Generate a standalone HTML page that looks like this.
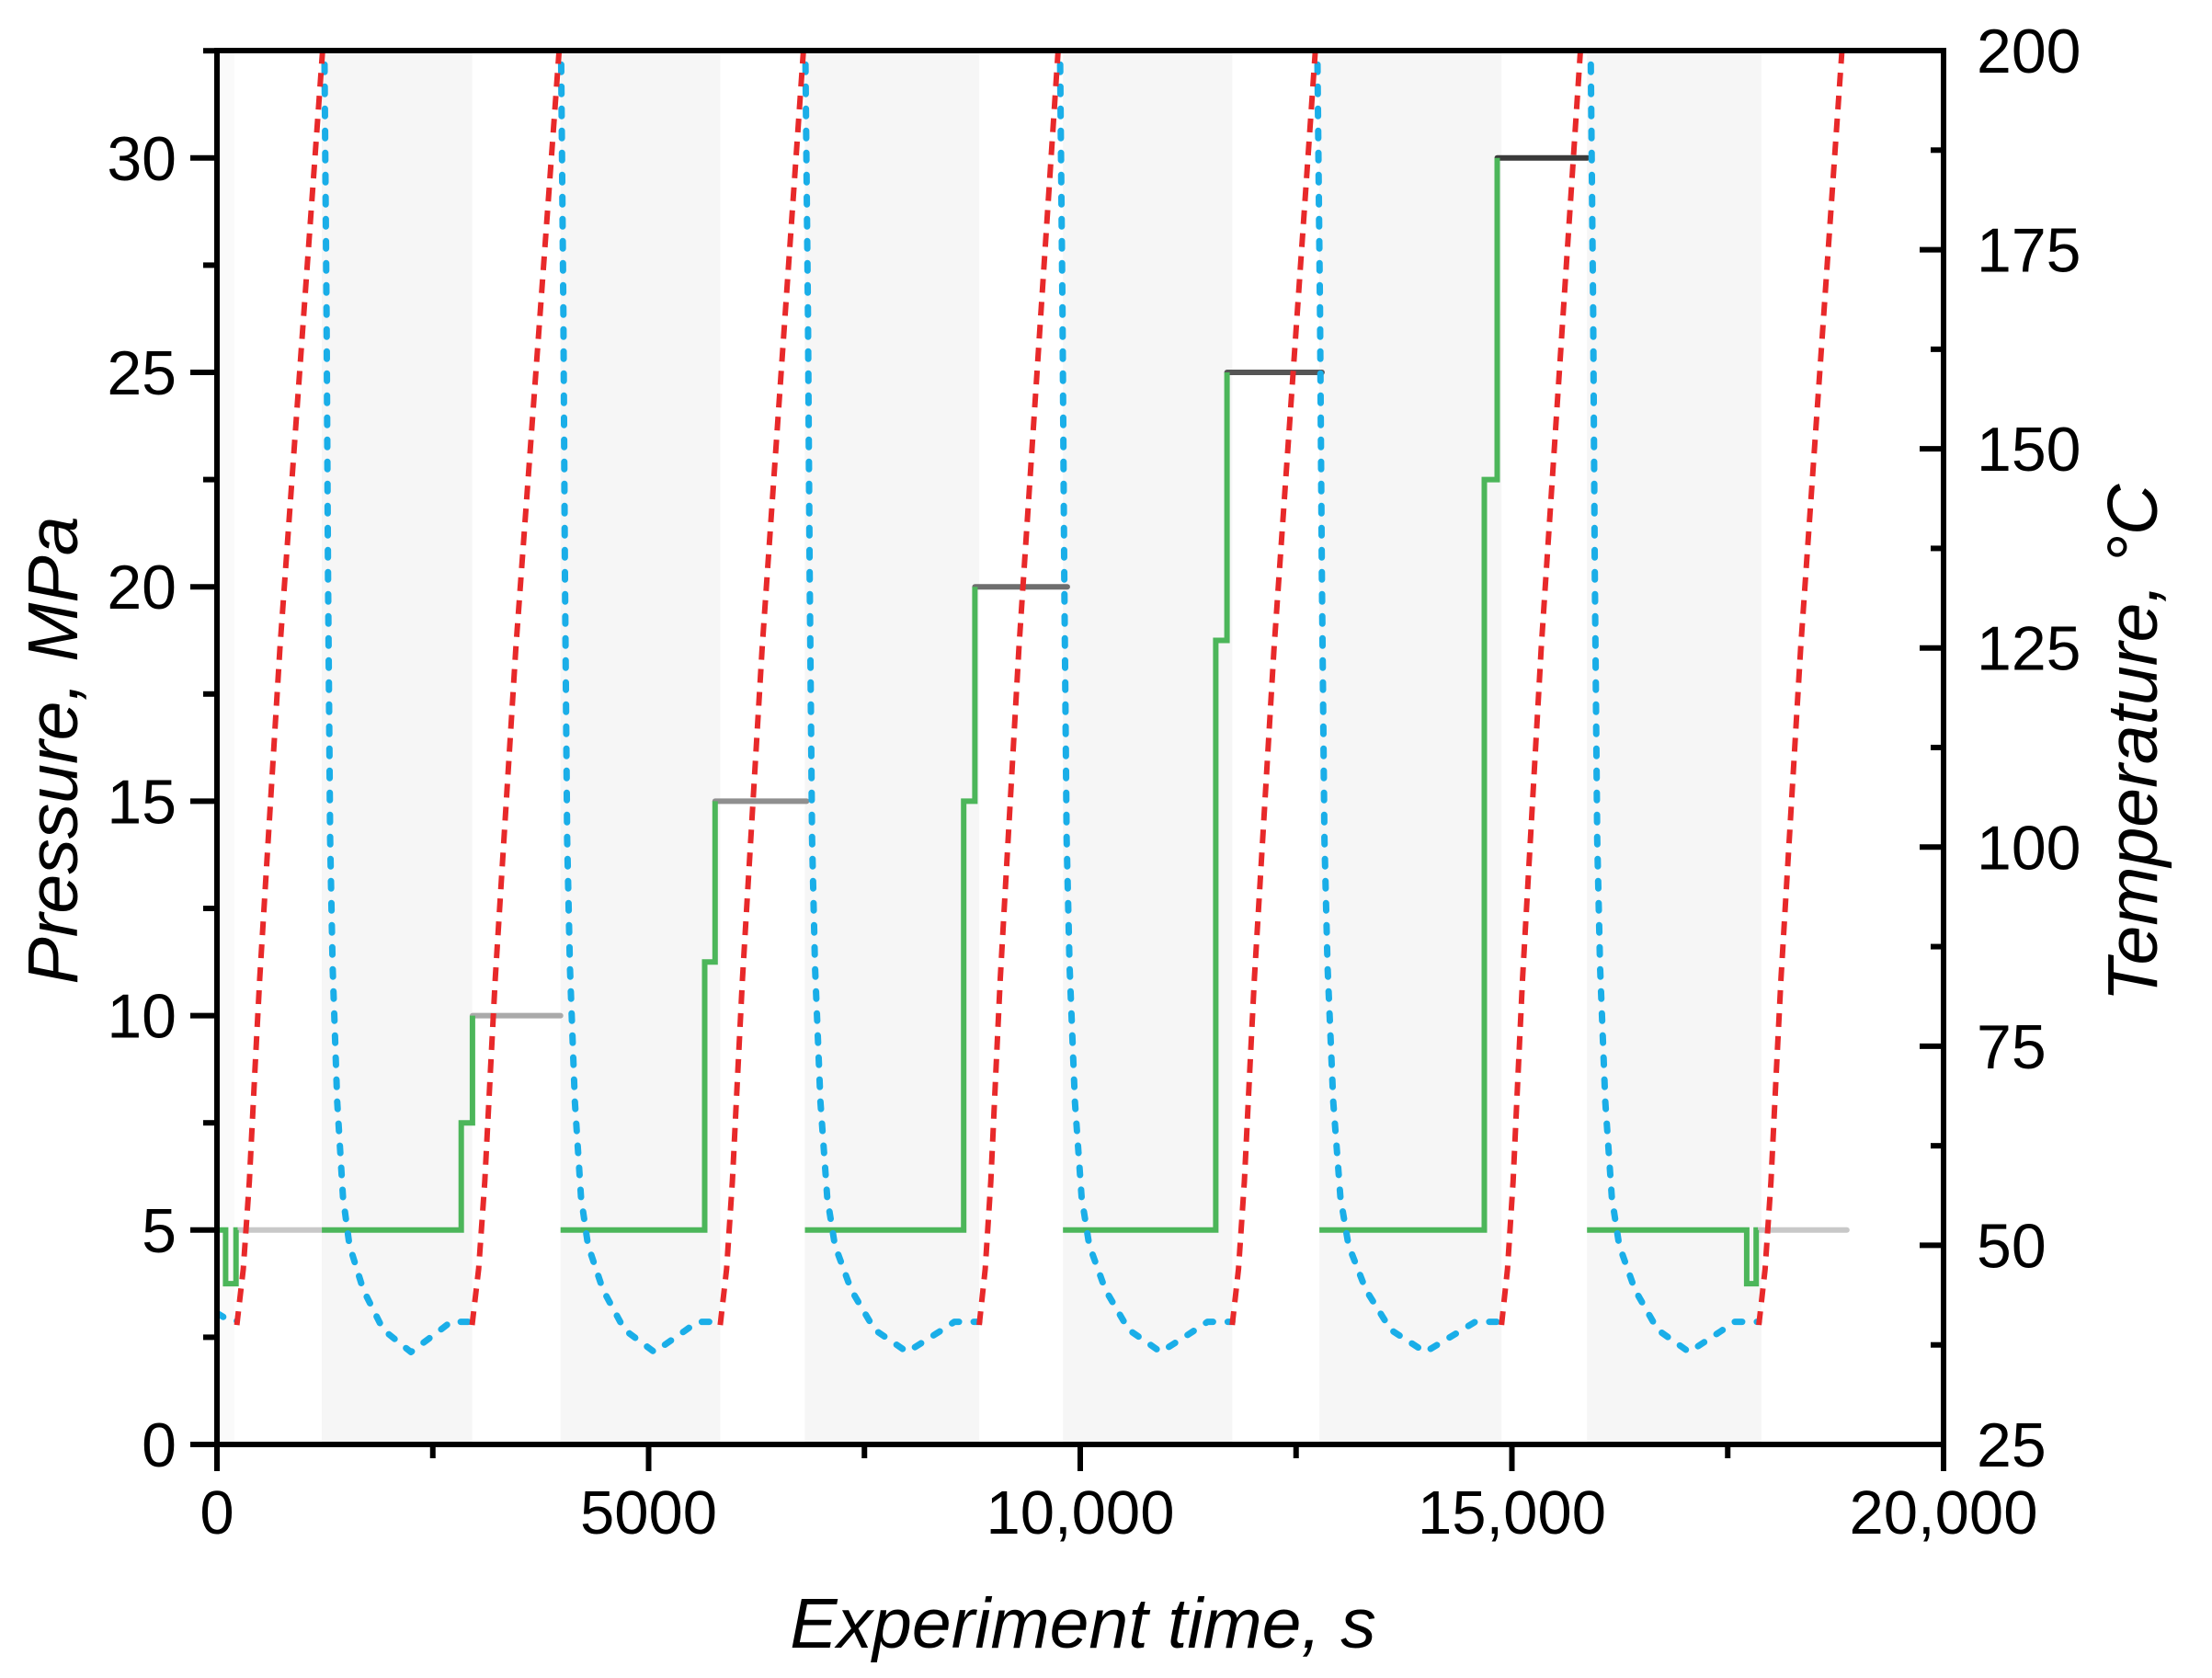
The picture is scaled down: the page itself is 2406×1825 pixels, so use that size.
<!DOCTYPE html>
<html><head><meta charset="utf-8"><style>
html,body{margin:0;padding:0;background:#fff;}
svg{display:block;font-family:"Liberation Sans",Arial,sans-serif;}
</style></head><body>
<svg id="chart" width="2406" height="1825" viewBox="0 0 2406 1825" xmlns="http://www.w3.org/2000/svg">
<defs><clipPath id="plotclip"><rect x="236" y="55" width="1878" height="1516"/></clipPath></defs>
<g id="bands"></g>
<g id="series" clip-path="url(#plotclip)"></g>
<g id="axes"></g>
<text x="0" y="0" transform="translate(84,816) rotate(-90)" text-anchor="middle" font-size="77" font-style="italic">Pressure, MPa</text>
<text x="0" y="0" transform="translate(2346,808) rotate(-90)" text-anchor="middle" font-size="77" font-style="italic">Temperature, °C</text>
<text x="1178" y="1792" text-anchor="middle" font-size="77" font-style="italic">Experiment time, s</text>
</svg>
<script>
// ---- data ----
const bandStarts = [20, 1215, 3980, 6810, 9800, 12770, 15870];
const bandEnds   = [200, 2955, 5830, 8830, 11760, 14880, 17890];
// green pressure (step) segments
const greenT = [
 [0,100,100,220,220,240],
 [1215,2830,2830,2960,2960],
 [3980,5650,5650,5770,5770],
 [6810,8650,8650,8780,8780],
 [9800,11570,11570,11700,11700],
 [12770,14680,14680,14830,14830],
 [15870,17720,17720,17830,17830,17850]
];
const greenP = [
 [5,5,3.75,3.75,5,5],
 [5,5,7.5,7.5,10],
 [5,5,11.25,11.25,15],
 [5,5,15,15,20],
 [5,5,18.75,18.75,25],
 [5,5,22.5,22.5,30],
 [5,5,3.75,3.75,5,5]
];
// grey hold segments
const holdStart = [240, 2960, 5770, 8780, 11700, 14830, 17850];
const holdEnd   = [1215, 3980, 6830, 9850, 12800, 15874, 18880];
const holdP     = [5, 10, 15, 20, 25, 30, 5];
const holdColor = ["#c8c8c8","#aaaaaa","#8f8f8f","#6e6e6e","#555555","#3a3a3a","#c8c8c8"];
// heating (red) cycles
const heatStart = [230, 2955, 5830, 8830, 11760, 14880, 17860];
const heatTop   = [1230, 3970, 6800, 9750, 12730, 15800, 18830];
const heatFrac  = [0, 0.075, 0.145, 0.21, 0.265, 0.5, 0.75, 1];
const heatTemp  = [40, 47, 58, 72, 83.5, 125, 163, 201];
// cooling (blue) cycles
const coolStart = [1244, 3985, 6815, 9765, 12745, 15912];
const coolEnd   = [2955, 5830, 8830, 11760, 14880, 17860];
const coolFrac  = [0, 0.015, 0.025, 0.039, 0.056, 0.087, 0.126, 0.17, 0.264, 0.399, 0.586, 0.773, 0.857, 1];
const coolTemp  = [201, 167, 134, 101, 85, 68, 56, 50, 44.4, 39.4, 36.6, 39.2, 40.4, 40.4];
const initT = [0, 150, 230];
const initTemp = [41.5, 40.5, 40.5];
const xTicks = [0, 5000, 10000, 15000, 20000];
const xTickLabels = ["0", "5000", "10,000", "15,000", "20,000"];
const yTicks = [0, 5, 10, 15, 20, 25, 30];
const y2Ticks = [25, 50, 75, 100, 125, 150, 175, 200];

// ---- scales ----
const X0=236, X1=2114, YB=1571, YT=55;
const X = t => X0 + t/20000*(X1-X0);
const YP = p => YB - p*46.64;
const YT2 = c => YB - (c-25)*(YB-YT)/175;
const NS="http://www.w3.org/2000/svg";
function mk(tag, attrs, parent){const e=document.createElementNS(NS,tag);for(const k in attrs)e.setAttribute(k,attrs[k]);parent.appendChild(e);return e;}
const bands=document.getElementById('bands'), series=document.getElementById('series'), axes=document.getElementById('axes');

bandStarts.forEach((s,i)=>{
 const r=mk('rect',{x:X(s),y:YT,width:X(bandEnds[i])-X(s),height:YB-YT,fill:i===0?'#fafafa':'#f6f6f6'},bands);
 
 
});
holdStart.forEach((s,i)=>{
 const l=mk('line',{x1:X(s),x2:X(holdEnd[i]),y1:YP(holdP[i]),y2:YP(holdP[i]),stroke:holdColor[i],'stroke-width':6,'stroke-linecap':'round'},series);
 
 
});
greenT.forEach((ts,i)=>{
 const d=ts.map((t,j)=>(j?'L':'M')+X(t).toFixed(1)+','+YP(greenP[i][j]).toFixed(1)).join(' ');
 const p=mk('path',{d:d,fill:'none',stroke:'#4cb65a','stroke-width':6,'stroke-linejoin':'miter'},series);
 
 
});
{
 const d=initT.map((t,j)=>(j?'L':'M')+X(t).toFixed(1)+','+YT2(initTemp[j]).toFixed(1)).join(' ');
 const p=mk('path',{d:d,fill:'none',stroke:'#1aaee8','stroke-width':7,'stroke-dasharray':'8 16','stroke-linecap':'round'},series);
 
 
}
coolStart.forEach((s,i)=>{
 const e=coolEnd[i];
 const d=coolFrac.map((f,j)=>(j?'L':'M')+X(s+f*(e-s)).toFixed(1)+','+YT2(coolTemp[j]).toFixed(1)).join(' ');
 const p=mk('path',{d:d,fill:'none',stroke:'#1aaee8','stroke-width':7,'stroke-dasharray':'8 16','stroke-linecap':'round','stroke-linejoin':'round'},series);
 
 
});
heatStart.forEach((s,i)=>{
 const e=heatTop[i];
 const d=heatFrac.map((f,j)=>(j?'L':'M')+X(s+f*(e-s)).toFixed(1)+','+YT2(heatTemp[j]).toFixed(1)).join(' ');
 const p=mk('path',{d:d,fill:'none',stroke:'#e8292a','stroke-width':6,'stroke-dasharray':'15 10','stroke-linejoin':'round'},series);
 
 
});
const A={stroke:'#000','stroke-width':6};
let a;
a=mk('line',Object.assign({x1:X0,x2:X0,y1:YT-3,y2:YB+29},A),axes);


a=mk('line',Object.assign({x1:X1,x2:X1,y1:YT-3,y2:YB+29},A),axes);


a=mk('line',Object.assign({x1:X0-29,x2:X1+3,y1:YB,y2:YB},A),axes);


a=mk('line',Object.assign({x1:X0-3,x2:X1+3,y1:YT,y2:YT},A),axes);


xTicks.forEach((t,i)=>{
 mk('line',Object.assign({x1:X(t),x2:X(t),y1:YB,y2:YB+29},A),axes);
 if(i<xTicks.length-1) mk('line',Object.assign({x1:X(t+2500),x2:X(t+2500),y1:YB,y2:YB+15},A),axes);
 const tx=mk('text',{x:X(t),y:1668,'text-anchor':'middle','font-size':67},axes);
 tx.textContent=xTickLabels[i];
 
 
});
yTicks.forEach((p,i)=>{
 mk('line',Object.assign({x1:X0-29,x2:X0,y1:YP(p),y2:YP(p)},A),axes);
 if(YP(p+2.5)>YT) mk('line',Object.assign({x1:X0-15,x2:X0,y1:YP(p+2.5),y2:YP(p+2.5)},A),axes);
 const tx=mk('text',{x:192,y:YP(p)+24,'text-anchor':'end','font-size':68},axes);
 tx.textContent=String(p);
 
 
});
y2Ticks.forEach((c,i)=>{
 mk('line',Object.assign({x1:X1-26,x2:X1,y1:YT2(c),y2:YT2(c)},A),axes);
 if(c<200) mk('line',Object.assign({x1:X1-14,x2:X1,y1:YT2(c+12.5),y2:YT2(c+12.5)},A),axes);
 const tx=mk('text',{x:2150,y:YT2(c)+24,'text-anchor':'start','font-size':68},axes);
 tx.textContent=String(c);
 
 
});
</script>
</body></html>
